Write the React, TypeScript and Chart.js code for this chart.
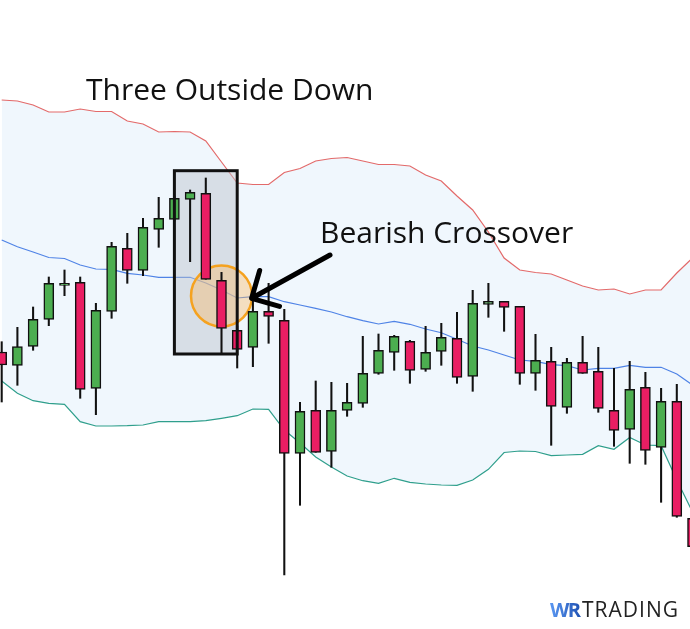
import React, { useEffect, useRef } from 'react';
import { Chart, registerables } from 'chart.js';

Chart.register(...registerables);

// ---- Data (price units) ----
const candleIndex = [
  0, 1, 2, 3, 4, 5, 6, 7, 8, 9, 10, 11, 12, 13, 14, 15, 16, 17, 18, 19, 20, 21,
  22, 23, 24, 25, 26, 27, 28, 29, 30, 31, 32, 33, 34, 35, 36, 37, 38, 39, 40, 41, 42, 43, 44,
];
const opens = [
  277, 263.7, 282.7, 309.7, 343.7, 346.7, 240.7, 317.7, 380.7, 358.7, 399.7, 409.7, 429.7, 435.7, 348.7,
  298.7, 281.7, 317.7, 308.7, 175.7, 218.7, 177.7, 218.7, 225.7, 255.7, 276.7, 287.7, 259.7, 277.7, 290.7,
  252.7, 324.7, 327.7, 322.7, 255.7, 267.7, 221.7, 266.7, 257.7, 218.7, 199.7, 241.7, 181.7, 227.7, 110.7,
];
const highs = [
  287.3, 301.7, 322, 352, 359, 352, 325.7, 386.7, 395.7, 410.7, 431.7, 433, 439, 451, 356.7,
  303, 329, 345.7, 319.7, 226.7, 248, 246.7, 245.7, 292.7, 295, 293.7, 288.7, 302.7, 305.7, 316.7,
  338.7, 345.7, 327.7, 322.7, 294.7, 281.7, 270.7, 292.7, 281.7, 260.7, 267.7, 256.7, 240.7, 244.7, 117,
];
const lows = [
  227, 243.7, 278.7, 303.3, 333.3, 230.7, 214.3, 310.7, 345.7, 353.3, 381.7, 408, 367.3, 349.7, 275.7,
  261, 262.3, 285.7, 54, 123.7, 176.7, 161.7, 212.7, 221.7, 254.7, 258.7, 245.7, 257.7, 263.7, 245.7,
  237.7, 311.7, 297.7, 244.7, 238.7, 183.7, 215.7, 255.7, 216.7, 182.7, 165.7, 164.7, 126.7, 111.7, 69,
];
const closes = [
  264, 282.3, 309.7, 345.7, 345.7, 239.7, 318.7, 382.7, 358.7, 401.7, 410.7, 430.7, 436.7, 349.7, 300.7,
  279.7, 317.7, 312.7, 175.7, 217.7, 176.7, 218.7, 226.7, 255.7, 278.7, 292.7, 258.7, 276.7, 291.7, 251.7,
  325.7, 327.7, 321.7, 255.7, 268.7, 222.7, 266.7, 255.7, 220.7, 198.7, 239.7, 178.7, 227.7, 112.7, 82.3,
];
const upperBand = [
  529, 528, 524, 517, 517, 520, 517.5, 517.5, 508, 505, 497, 497.5, 497, 488, 467,
  446, 444.5, 444.5, 456.5, 460.5, 468, 470.5, 471.5, 468, 464.5, 464.5, 463, 454, 448, 433,
  419, 397, 371, 359, 356.5, 355, 349, 343, 339, 340, 335, 339, 339, 356, 371,
];
const middleBand = [
  389, 382.3, 377, 371.5, 370.5, 364, 360, 359.7, 355.7, 354, 351.7, 351.7, 351.7, 346, 339,
  331, 332.3, 332.3, 327.3, 324, 320.7, 317, 312.3, 308.3, 305, 307.7, 304.7, 300, 296.3, 289.7,
  283, 279, 274, 269, 267.7, 264.3, 263.3, 259, 260.7, 260.7, 263.7, 261.7, 261.7, 255, 244,
];
const lowerBand = [
  248, 235.7, 228.3, 225.7, 224.7, 207.3, 203, 203, 203.3, 204, 207.3, 207.3, 207.3, 208.3, 210.7,
  213.3, 220, 219.7, 199, 186, 172, 162, 153, 148.3, 145.7, 150.7, 146.7, 145, 144, 143.7,
  149, 159.7, 176.5, 178, 177.5, 173.3, 174, 174.7, 183.3, 179.7, 191.5, 184, 183.3, 149, 117,
];

const titleText = 'Three Outside Down';
const crossText = 'Bearish Crossover';

const UP = '#4cae50';
const DOWN = '#e91e63';

const annotationPlugin = {
  id: 'patternAnnotations',
  beforeDatasetDraw(chart: any, args: any) {
    if (args.index !== 1) return;
    const { ctx } = chart;
    const x = chart.scales.x;
    const y = chart.scales.y;
    const bx0 = x.getPixelForValue(11);
    const bx1 = x.getPixelForValue(15);
    const by0 = y.getPixelForValue(458.3);
    const by1 = y.getPixelForValue(275);
    ctx.save();
    ctx.fillStyle = 'rgba(188,194,205,0.48)';
    ctx.fillRect(bx0, by0, bx1 - bx0, by1 - by0);
    ctx.beginPath();
    ctx.arc(x.getPixelForValue(14), y.getPixelForValue(333), 30.5, 0, Math.PI * 2);
    ctx.fillStyle = 'rgba(250,185,100,0.4)';
    ctx.fill();
    ctx.lineWidth = 2.5;
    ctx.strokeStyle = '#f5a21f';
    ctx.stroke();
    ctx.restore();
  },
  afterDatasetsDraw(chart: any) {
    const { ctx } = chart;
    const x = chart.scales.x;
    const y = chart.scales.y;
    ctx.save();
    // pattern box outline
    const bx0 = x.getPixelForValue(11);
    const bx1 = x.getPixelForValue(15);
    const by0 = y.getPixelForValue(458.3);
    const by1 = y.getPixelForValue(275);
    ctx.lineWidth = 3;
    ctx.strokeStyle = '#111';
    ctx.strokeRect(bx0, by0, bx1 - bx0, by1 - by0);

    // arrow
    const tipX = x.getPixelForValue(15.92);
    const tipY = y.getPixelForValue(330.7);
    const tailX = x.getPixelForValue(20.91);
    const tailY = y.getPixelForValue(374);
    const ang = Math.atan2(tailY - tipY, tailX - tipX);
    const head = 29;
    ctx.lineWidth = 5;
    ctx.lineCap = 'round';
    ctx.lineJoin = 'round';
    ctx.strokeStyle = '#000';
    ctx.beginPath();
    ctx.moveTo(tailX, tailY);
    ctx.lineTo(tipX, tipY);
    ctx.moveTo(tipX + head * Math.cos(ang - Math.PI / 4), tipY + head * Math.sin(ang - Math.PI / 4));
    ctx.lineTo(tipX, tipY);
    ctx.lineTo(tipX + head * Math.cos(ang + Math.PI / 4), tipY + head * Math.sin(ang + Math.PI / 4));
    ctx.stroke();

    // texts
    ctx.fillStyle = '#111';
    ctx.textBaseline = 'alphabetic';
    ctx.textAlign = 'left';
    ctx.font = '30px "Open Sans"';
    ctx.fillText(titleText, 86, 99.5);
    ctx.fillText(crossText, 320, 243);

    // watermark
    const grad = ctx.createLinearGradient(550, 0, 582, 0);
    grad.addColorStop(0, '#5a97f2');
    grad.addColorStop(1, '#1d4fb0');
    ctx.fillStyle = grad;
    ctx.font = 'bold 20px "Open Sans"';
    (ctx as any).letterSpacing = '-1.5px';
    ctx.fillText('WR', 550, 616.5);
    ctx.fillStyle = '#222';
    ctx.font = '21px "Open Sans"';
    (ctx as any).letterSpacing = '1px';
    ctx.fillText('TRADING', 582, 616.5);
    ctx.restore();
  },
};

export default function App() {
  const canvasRef = useRef<HTMLCanvasElement | null>(null);

  useEffect(() => {
    document.body.style.margin = '0';
    const canvas = canvasRef.current;
    if (!canvas) return;

    const bodies = candleIndex.map((i) => ({ x: i, y: [Math.min(opens[i], closes[i]), Math.max(opens[i], closes[i])] }));
    const wicks = candleIndex.map((i) => ({ x: i, y: [lows[i], highs[i]] }));
    const bodyColors = candleIndex.map((i) => (closes[i] >= opens[i] ? UP : DOWN));
    const line = (arr: number[]) => candleIndex.map((i) => ({ x: i, y: arr[i] }));

    const chart = new Chart(canvas, {
      type: 'bar',
      data: {
        datasets: [
          {
            type: 'bar',
            label: 'Body',
            data: bodies as any,
            backgroundColor: bodyColors,
            borderColor: '#111',
            borderWidth: 1.5,
            borderSkipped: false,
            barThickness: 10,
            grouped: false,
            order: 0,
          } as any,
          {
            type: 'bar',
            label: 'Wick',
            data: wicks as any,
            backgroundColor: '#111',
            borderWidth: 0,
            barThickness: 1.4,
            grouped: false,
            order: 1,
          } as any,
          {
            type: 'line',
            label: 'Upper band',
            data: line(upperBand) as any,
            borderColor: '#e36a6a',
            borderWidth: 1.2,
            pointRadius: 0,
            tension: 0,
            fill: '+2',
            backgroundColor: '#f0f7fd',
            order: 4,
          } as any,
          {
            type: 'line',
            label: 'Middle band',
            data: line(middleBand) as any,
            borderColor: '#4f83e6',
            borderWidth: 1.2,
            pointRadius: 0,
            tension: 0,
            fill: false,
            order: 3,
          } as any,
          {
            type: 'line',
            label: 'Lower band',
            data: line(lowerBand) as any,
            borderColor: '#2f9f8c',
            borderWidth: 1.2,
            pointRadius: 0,
            tension: 0,
            fill: false,
            order: 2,
          } as any,
        ],
      },
      options: {
        responsive: false,
        animation: false,
        devicePixelRatio: 1,
        layout: { padding: 0 },
        scales: {
          x: {
            type: 'linear',
            display: false,
            offset: false,
            bounds: 'data',
            min: -0.1083,
            max: 43.8408,
          },
          y: {
            type: 'linear',
            display: false,
            bounds: 'data',
            min: 0,
            max: 629,
          },
        },
        plugins: {
          legend: { display: false },
          tooltip: { enabled: false },
        },
      } as any,
      plugins: [annotationPlugin],
    });

    return () => chart.destroy();
  }, []);

  return (
    <div style={{ width: 690, height: 629, background: '#fff' }}>
      <canvas ref={canvasRef} width={690} height={629} style={{ display: 'block' }} />
    </div>
  );
}
